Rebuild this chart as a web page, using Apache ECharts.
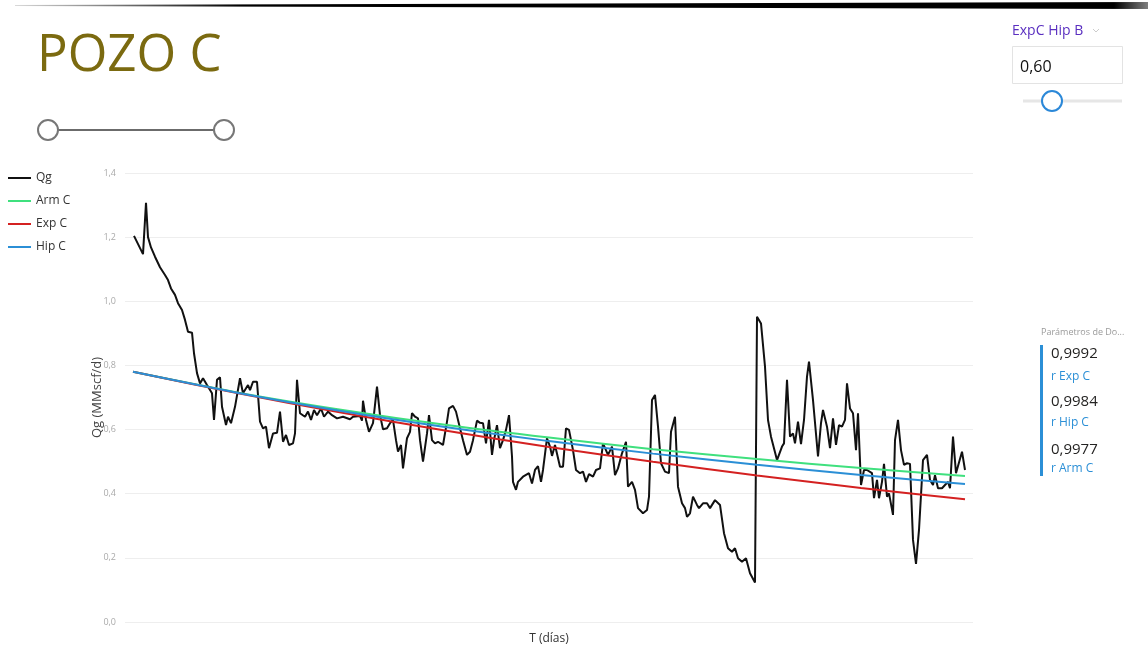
<!DOCTYPE html>
<html>
<head>
<meta charset="utf-8">
<script src="https://cdn.jsdelivr.net/npm/echarts@6/dist/echarts.min.js"></script>
<style>
  html, body { margin: 0; padding: 0; background: #fff; }
  #chart { width: 1148px; height: 648px; }
</style>
</head>
<body>
<div id="chart"></div>
<script>
// dias desde el inicio (eje sin etiquetas) y caudal medido
const tDays = [1, 10, 13, 15, 18, 22, 27, 32, 35, 38, 42, 45, 49, 52, 55, 59, 61, 64, 67, 70, 74, 79, 81, 84, 87, 89, 93, 95, 98, 102,
  107, 110, 112, 115, 117, 120, 124, 127, 130, 133, 136, 140, 144, 147, 150, 153, 156, 160, 162, 164, 167, 172, 175, 178, 181, 184, 188, 191, 195, 199,
  204, 210, 217, 220, 227, 229, 230, 233, 236, 240, 242, 244, 247, 250, 254, 257, 260, 263, 265, 268, 270, 274, 277, 279, 282, 285, 287, 290, 294, 296,
  299, 302, 305, 310, 314, 316, 320, 323, 327, 330, 334, 337, 340, 344, 347, 350, 353, 356, 359, 361, 364, 367, 370, 373, 376, 379, 380, 383, 385, 390,
  396, 399, 402, 405, 408, 410, 414, 417, 419, 422, 424, 427, 430, 433, 436, 440, 443, 447, 450, 453, 456, 460, 463, 467, 470, 475, 479, 482, 485, 489,
  493, 495, 499, 502, 505, 510, 514, 516, 519, 522, 525, 528, 532, 536, 538, 542, 545, 549, 552, 554, 557, 560, 564, 566, 570, 574, 577, 582, 587, 591,
  595, 599, 602, 605, 609, 613, 617, 622, 624, 628, 632, 635, 638, 640, 644, 646, 649, 651, 654, 657, 660, 662, 665, 668, 671, 674, 676, 680, 685, 688,
  690, 694, 697, 700, 703, 706, 709, 712, 714, 717, 720, 723, 725, 728, 731, 734, 739, 741, 744, 746, 749, 751, 754, 756, 760, 762, 765, 768, 771, 774,
  777, 780, 783, 786, 790, 794, 797, 800, 802, 805, 809, 812, 815, 817, 820, 823, 829, 832];
const qg = [1.204, 1.147, 1.307, 1.20, 1.168, 1.139, 1.106, 1.082, 1.066, 1.04, 1.02, 0.994, 0.973, 0.942, 0.905, 0.902, 0.838, 0.776, 0.744, 0.760, 0.739, 0.713, 0.63, 0.755, 0.763, 0.671, 0.614, 0.64, 0.62, 0.671,
  0.76, 0.713, 0.718, 0.739, 0.723, 0.749, 0.749, 0.625, 0.604, 0.609, 0.542, 0.588, 0.59, 0.656, 0.562, 0.583, 0.552, 0.557, 0.588, 0.755, 0.651, 0.64, 0.656, 0.63, 0.661, 0.645, 0.666, 0.64, 0.656, 0.645,
  0.635, 0.64, 0.632, 0.64, 0.642, 0.628, 0.69, 0.63, 0.593, 0.62, 0.62, 0.734, 0.645, 0.601, 0.604, 0.62, 0.63, 0.567, 0.531, 0.552, 0.479, 0.573, 0.593, 0.651, 0.64, 0.635, 0.567, 0.5, 0.588, 0.645,
  0.567, 0.557, 0.562, 0.552, 0.625, 0.666, 0.674, 0.656, 0.604, 0.567, 0.521, 0.531, 0.567, 0.628, 0.621, 0.62, 0.557, 0.63, 0.521, 0.567, 0.614, 0.542, 0.567, 0.599, 0.645, 0.516, 0.437, 0.412, 0.437, 0.453,
  0.464, 0.432, 0.474, 0.486, 0.437, 0.474, 0.573, 0.547, 0.518, 0.552, 0.547, 0.484, 0.484, 0.604, 0.599, 0.536, 0.474, 0.464, 0.469, 0.437, 0.461, 0.453, 0.474, 0.479, 0.557, 0.521, 0.547, 0.458, 0.479, 0.526,
  0.562, 0.422, 0.437, 0.412, 0.355, 0.339, 0.349, 0.391, 0.692, 0.708, 0.609, 0.495, 0.469, 0.464, 0.593, 0.64, 0.422, 0.37, 0.355, 0.328, 0.339, 0.391, 0.365, 0.355, 0.37, 0.37, 0.355, 0.38, 0.365, 0.277,
  0.23, 0.219, 0.23, 0.199, 0.188, 0.199, 0.152, 0.123, 0.952, 0.931, 0.796, 0.63, 0.578, 0.583, 0.505, 0.5, 0.547, 0.557, 0.755, 0.578, 0.588, 0.557, 0.625, 0.555, 0.63, 0.765, 0.812, 0.692, 0.516, 0.62,
  0.661, 0.609, 0.542, 0.635, 0.552, 0.614, 0.609, 0.63, 0.744, 0.666, 0.651, 0.536, 0.651, 0.427, 0.474, 0.474, 0.464, 0.386, 0.443, 0.386, 0.437, 0.493, 0.391, 0.401, 0.334, 0.567, 0.63, 0.536, 0.49, 0.495,
  0.493, 0.256, 0.181, 0.287, 0.505, 0.521, 0.443, 0.427, 0.458, 0.417, 0.417, 0.427, 0.437, 0.417, 0.578, 0.464, 0.531, 0.474];

// curvas de declinacion
const tFit = [0, 104, 208, 312, 416, 520, 624, 728, 832];
const armC = [0.780, 0.716, 0.662, 0.615, 0.575, 0.539, 0.508, 0.480, 0.455];
const expC = [0.780, 0.714, 0.653, 0.597, 0.546, 0.500, 0.457, 0.418, 0.383];
const hipC = [0.780, 0.715, 0.658, 0.608, 0.564, 0.525, 0.490, 0.458, 0.430];

const yTicks = [0, 0.2, 0.4, 0.6, 0.8, 1.0, 1.2, 1.4];
const rValues = ['0,9992', '0,9984', '0,9977'];
const rLabels = ['r Exp C', 'r Hip C', 'r Arm C'];

const FONT = '"Open Sans", "Noto Sans", sans-serif';
const pairs = (xs, ys) => xs.map((x, i) => [x, ys[i]]);

const chart = echarts.init(document.getElementById('chart'));

const cardTexts = [];
rValues.forEach((v, i) => {
  cardTexts.push({ type: 'text', left: 1051, top: 346 + i * 48, style: { text: v, font: '15px ' + FONT, fill: '#252423' } });
  cardTexts.push({ type: 'text', left: 1051, top: 371 + i * 46, style: { text: rLabels[i], font: '12px ' + FONT, fill: '#2b8fd6' } });
});

chart.setOption({
  animation: false,
  color: ['#111111', '#3fe07e', '#d42121', '#2b8fd6'],
  grid: { left: 125, right: 175, top: 173, bottom: 26, outerBoundsMode: 'none' },
  legend: {
    orient: 'vertical',
    left: 8,
    top: 171,
    padding: 0,
    icon: 'rect',
    itemWidth: 23,
    itemHeight: 2,
    itemGap: 9,
    textStyle: { fontFamily: FONT, fontSize: 12, color: '#333', lineHeight: 14 },
    data: ['Qg', 'Arm C', 'Exp C', 'Hip C']
  },
  xAxis: {
    type: 'value',
    min: -8,
    max: 840,
    name: 'T (días)',
    nameLocation: 'middle',
    nameGap: 11,
    nameMoveOverlap: false,
    nameTextStyle: { fontFamily: FONT, fontSize: 12, color: '#333' },
    axisLine: { show: false },
    axisTick: { show: false },
    axisLabel: { show: false },
    splitLine: { show: false }
  },
  yAxis: {
    type: 'value',
    min: 0,
    max: 1.4,
    interval: 0.2,
    name: 'Qg (MMscf/d)',
    nameLocation: 'middle',
    nameGap: 21,
    nameMoveOverlap: false,
    nameTextStyle: { fontFamily: FONT, fontSize: 13, color: '#444' },
    axisLine: { show: false },
    axisTick: { show: false },
    axisLabel: {
      fontFamily: FONT, fontSize: 9, color: '#aaa', margin: 9,
      formatter: v => yTicks.includes(Math.round(v * 10) / 10) ? v.toFixed(1).replace('.', ',') : ''
    },
    splitLine: { lineStyle: { color: '#eeeeee', width: 1 } }
  },
  series: [
    { name: 'Qg', type: 'line', showSymbol: false, data: pairs(tDays, qg), lineStyle: { width: 2, color: '#111' } },
    { name: 'Arm C', type: 'line', showSymbol: false, smooth: 0.3, data: pairs(tFit, armC), lineStyle: { width: 2 } },
    { name: 'Exp C', type: 'line', showSymbol: false, smooth: 0.3, data: pairs(tFit, expC), lineStyle: { width: 2 } },
    { name: 'Hip C', type: 'line', showSymbol: false, smooth: 0.3, data: pairs(tFit, hipC), lineStyle: { width: 2 } }
  ],
  graphic: [
    // barra superior
    {
      type: 'polygon', silent: true,
      shape: { points: [[15, 5], [1148, 2], [1148, 9], [15, 6]] },
      style: { fill: new echarts.graphic.LinearGradient(0, 0, 1, 0, [
        { offset: 0, color: 'rgba(0,0,0,0.15)' },
        { offset: 0.2, color: '#000' },
        { offset: 0.97, color: '#000' },
        { offset: 1, color: 'rgba(0,0,0,0.5)' }
      ]) }
    },
    { type: 'text', left: 37, top: 31, style: { text: 'POZO C', font: '51px ' + FONT, fill: '#7b6a10' } },
    // slider de rango
    { type: 'line', shape: { x1: 58, y1: 130, x2: 214, y2: 130 }, style: { stroke: '#6b6b6b', lineWidth: 2 } },
    { type: 'circle', shape: { cx: 48, cy: 130, r: 10 }, style: { fill: '#fff', stroke: '#777', lineWidth: 2 } },
    { type: 'circle', shape: { cx: 224, cy: 130, r: 10 }, style: { fill: '#fff', stroke: '#777', lineWidth: 2 } },
    // parametro b
    { type: 'text', left: 1012, top: 24, style: { text: 'ExpC Hip B', font: '14px ' + FONT, fill: '#5a2fc0' } },
    { type: 'polyline', shape: { points: [[1093, 29], [1096, 32], [1099, 29]] }, style: { stroke: '#ccc', lineWidth: 1, fill: null } },
    { type: 'rect', shape: { x: 1012.5, y: 46.5, width: 110, height: 37 }, style: { fill: '#fff', stroke: '#e3e3e3', lineWidth: 1 } },
    { type: 'text', left: 1020, top: 59, style: { text: '0,60', font: '16px ' + FONT, fill: '#111' } },
    { type: 'line', shape: { x1: 1023, y1: 101, x2: 1122, y2: 101 }, style: { stroke: '#e6e6e6', lineWidth: 3 } },
    { type: 'circle', shape: { cx: 1052, cy: 101, r: 10 }, style: { fill: '#fff', stroke: '#2b88d8', lineWidth: 2 } },
    // tarjeta de parametros
    { type: 'text', left: 1041, top: 328, style: { text: 'Parámetros de Do...', font: '9px ' + FONT, fill: '#9a9a9a' } },
    { type: 'rect', shape: { x: 1040, y: 345, width: 3, height: 131 }, style: { fill: '#2b8fd6' } }
  ].concat(cardTexts)
});
</script>
</body>
</html>
